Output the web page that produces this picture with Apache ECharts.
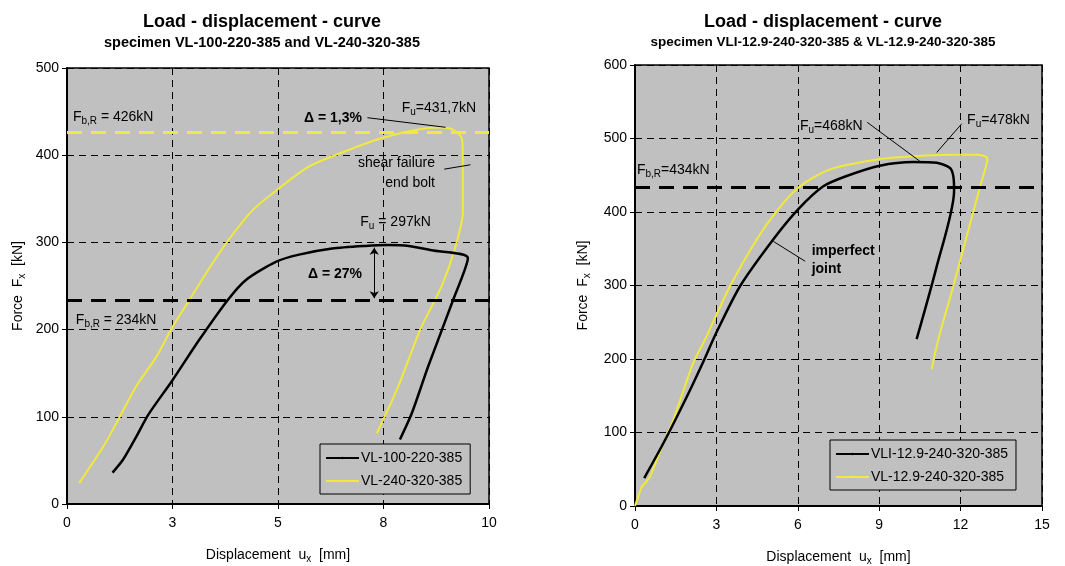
<!DOCTYPE html>
<html>
<head>
<meta charset="utf-8">
<script src="https://cdn.jsdelivr.net/npm/echarts@6/dist/echarts.min.js"></script>
<style>
  html, body { margin: 0; padding: 0; background: #fff; }
  #chart { width: 1065px; height: 566px; }
</style>
</head>
<body>
<div id="chart"></div>
<script>
// ---- Left panel: VL-100-220-385 and VL-240-320-385 ----
const leftBlackDisp  = [1.08, 1.33, 1.64, 1.92, 2.5, 3.13, 3.81, 4.24, 4.96, 5.5, 6.28, 7.07, 7.6, 8.1, 8.64, 9.5, 9.15, 8.56, 8.17, 7.89];
const leftBlackForce = [36, 51, 77, 102, 142, 188, 234, 257, 278, 286, 293, 296, 297, 296, 291, 282, 234, 158, 104, 74];

const leftYellowDisp  = [0.29, 0.9, 1.25, 1.64, 2.12, 2.5, 2.9, 3.3, 3.77, 4.4, 4.97, 5.73, 6.67, 7.48, 8.25, 8.8, 9.11, 9.31, 9.37, 9.38, 9.38, 9.18, 8.87, 8.37, 7.85, 7.34];
const leftYellowForce = [24, 69, 100, 135, 169, 203, 234, 265, 299, 337, 360, 387, 406, 420, 429, 431.7, 430, 423, 415, 387, 335, 291, 249, 200, 135, 81];

// ---- Right panel: VLI-12.9-240-320-385 and VL-12.9-240-320-385 ----
const rightBlackDisp  = [0.34, 1.04, 1.9, 2.5, 3.0, 3.87, 5.1, 6.02, 6.94, 7.8, 9.02, 10.26, 11.12, 11.61, 11.73, 11.76, 11.12, 10.38];
const rightBlackForce = [38, 85, 148, 195, 236, 299, 363, 404, 435, 449, 463, 468, 467, 460, 449, 429, 326, 227];

const rightYellowDisp  = [0, 0.12, 0.25, 0.37, 0.55, 1.04, 1.41, 2.15, 2.6, 3.5, 4.49, 5.28, 6.08, 7.19, 9.02, 10.26, 12.0, 12.6, 12.99, 12.72, 11.73, 11.18, 10.93];
const rightYellowForce = [0, 13, 26, 31, 40, 85, 117, 195, 228, 299, 363, 404, 435, 458, 472, 476, 478, 478, 473, 435, 299, 227, 186];

// Design resistances F_b,R [kN]
const leftFbrYellow = 426;
const leftFbrBlack = 234;
const rightFbrBlack = 434;

// Series names
const leftNames = ['VL-100-220-385', 'VL-240-320-385'];
const rightNames = ['VLI-12.9-240-320-385', 'VL-12.9-240-320-385'];

const zip = (xs, ys) => xs.map((x, i) => [x, ys[i]]);

const FONT = '"Liberation Sans", Arial, sans-serif';
const YELLOW = '#f2ea3a';
const BG = '#c0c0c0';

const plain = { color: '#000', textBorderWidth: 0, textShadowBlur: 0 };
const rich = {
  n: Object.assign({ fontFamily: FONT, fontSize: 14, lineHeight: 18 }, plain),
  s: Object.assign({ fontFamily: FONT, fontSize: 10, lineHeight: 10, verticalAlign: 'bottom' }, plain),
  b: Object.assign({ fontFamily: FONT, fontSize: 14, fontWeight: 'bold', lineHeight: 18 }, plain)
};

function gridAxes(idx, max, interval, xMax, xInterval, fmt) {
  const x = {
    type: 'value', gridIndex: idx, min: 0, max: xMax, interval: xInterval,
    name: '{n|Displacement  u}{s|x}{n|  [mm]}',
    nameLocation: 'middle', nameGap: 42,
    nameTextStyle: { rich: rich },
    axisLine: { onZero: false, lineStyle: { color: '#000', width: 2 } },
    axisTick: { show: true, length: 5, lineStyle: { color: '#000' } },
    axisLabel: { color: '#000', fontSize: 14, fontFamily: FONT, margin: 12, formatter: fmt },
    splitLine: { show: true, lineStyle: { color: '#000', width: 1, type: [7, 5] } }
  };
  const y = {
    type: 'value', gridIndex: idx, min: 0, max: max, interval: interval,
    name: '{n|Force  F}{s|x}{n|  [kN]}',
    nameLocation: 'middle', nameGap: idx === 0 ? 40 : 43,
    nameTextStyle: { rich: rich },
    axisLine: { onZero: false, lineStyle: { color: '#000', width: 2 } },
    axisTick: { show: true, length: 5, lineStyle: { color: '#000' } },
    axisLabel: { color: '#000', fontSize: 14, fontFamily: FONT, margin: 8 },
    splitLine: { show: true, lineStyle: { color: '#000', width: 1, type: [7, 5] } }
  };
  return [x, y];
}

const [xL, yL] = gridAxes(0, 500, 100, 10, 2.5, v => String(Math.round(v)));
const [xR, yR] = gridAxes(1, 600, 100, 15, 3, v => String(v));

function curve(name, idx, xs, ys, color, width) {
  return {
    name: name, type: 'line', xAxisIndex: idx, yAxisIndex: idx,
    data: zip(xs, ys), symbol: 'none', smooth: 0.25, z: 3,
    lineStyle: { color: color, width: width }, itemStyle: { color: color },
    silent: true, animation: false
  };
}

function refLine(value, color) {
  return { yAxis: value, lineStyle: { color: color, width: 3, type: [15, 9] } };
}

function leader(a, b, arrows) {
  const sym = arrows ? 'arrow' : 'none';
  const style = { color: '#000', width: 1, type: 'solid' };
  return [
    { coord: a, symbol: sym, symbolSize: 7, lineStyle: style },
    { coord: b, symbol: sym, symbolSize: 7, lineStyle: style }
  ];
}

// Text notes placed in axis units
function notes(idx, items) {
  return {
    type: 'scatter', xAxisIndex: idx, yAxisIndex: idx, symbolSize: 0, silent: true,
    animation: false, z: 5,
    itemStyle: { opacity: 1, color: 'rgba(0,0,0,0)' },
    data: items.map(it => ({
      value: it.at,
      label: Object.assign({
        show: true, position: 'inside', formatter: it.text, align: it.align || 'left',
        verticalAlign: 'middle', rich: rich, lineHeight: 20, opacity: 1
      }, plain)
    }))
  };
}

const leftNotes = notes(0, [
  { at: [0.14, 444], text: '{n|F}{s|b,R}{n| = 426kN}' },
  { at: [0.21, 211], text: '{n|F}{s|b,R}{n| = 234kN}' },
  { at: [6.99, 443], text: '{b|Δ = 1,3%}', align: 'right' },
  { at: [7.93, 454], text: '{n|F}{s|u}{n|=431,7kN}' },
  { at: [8.72, 391], text: '{n|shear failure}', align: 'right' },
  { at: [8.72, 368], text: '{n|end bolt}', align: 'right' },
  { at: [6.95, 323], text: '{n|F}{s|u}{n| = 297kN}' },
  { at: [6.35, 264], text: '{b|Δ = 27%}', align: 'center' }
]);

const rightNotes = notes(1, [
  { at: [12.24, 525], text: '{n|F}{s|u}{n|=478kN}' },
  { at: [6.08, 517], text: '{n|F}{s|u}{n|=468kN}' },
  { at: [0.07, 457], text: '{n|F}{s|b,R}{n|=434kN}' },
  { at: [6.51, 347], text: '{b|imperfect}' },
  { at: [6.51, 322], text: '{b|joint}' }
]);

const leftYellowSeries = curve(leftNames[1], 0, leftYellowDisp, leftYellowForce, YELLOW, 2);
leftYellowSeries.markLine = {
  silent: true, symbol: 'none', label: { show: false }, animation: false,
  data: [refLine(leftFbrYellow, YELLOW)]
};
const leftBlackSeries = curve(leftNames[0], 0, leftBlackDisp, leftBlackForce, '#000', 2.5);
leftBlackSeries.markLine = {
  silent: true, symbol: 'none', label: { show: false }, animation: false,
  data: [
    refLine(leftFbrBlack, '#000'),
    leader([7.12, 443], [8.97, 432]),
    leader([8.94, 384], [9.56, 389]),
    leader([7.28, 294], [7.28, 236], true)
  ]
};

const rightBlackSeries = curve(rightNames[0], 1, rightBlackDisp, rightBlackForce, '#000', 2.5);
rightBlackSeries.markLine = {
  silent: true, symbol: 'none', label: { show: false }, animation: false,
  data: [
    refLine(rightFbrBlack, '#000'),
    leader([12.04, 520], [11.12, 481]),
    leader([8.56, 522], [10.5, 469]),
    leader([5.1, 360], [6.27, 333])
  ]
};
const rightYellowSeries = curve(rightNames[1], 1, rightYellowDisp, rightYellowForce, YELLOW, 2);

const legendBase = {
  orient: 'vertical', backgroundColor: BG, borderColor: '#000', borderWidth: 1,
  itemWidth: 33, itemHeight: 3, itemGap: 9, padding: [7, 8, 6, 5],
  textStyle: { fontFamily: FONT, fontSize: 14, color: '#000', padding: [0, 0, 0, -3] },
  selectedMode: false, z: 10
};

const chart = echarts.init(document.getElementById('chart'), null, { renderer: 'canvas' });
chart.setOption({
  animation: false,
  backgroundColor: '#fff',
  title: [
    {
      text: 'Load - displacement - curve', subtext: 'specimen VL-100-220-385 and VL-240-320-385',
      left: 257, top: 8, textAlign: 'center', itemGap: 4,
      textStyle: { fontFamily: FONT, fontSize: 18, fontWeight: 'bold', color: '#000' },
      subtextStyle: { fontFamily: FONT, fontSize: 14.5, fontWeight: 'bold', color: '#000' }
    },
    {
      text: 'Load - displacement - curve', subtext: 'specimen VLI-12.9-240-320-385 & VL-12.9-240-320-385',
      left: 818, top: 8, textAlign: 'center', itemGap: 4,
      textStyle: { fontFamily: FONT, fontSize: 18, fontWeight: 'bold', color: '#000' },
      subtextStyle: { fontFamily: FONT, fontSize: 13.5, fontWeight: 'bold', color: '#000' }
    }
  ],
  grid: [
    { left: 67, right: 576, top: 68, bottom: 62, show: true, backgroundColor: BG, borderColor: '#000', borderWidth: 1.5, containLabel: false, outerBoundsMode: 'none' },
    { left: 635, right: 23, top: 65, bottom: 60, show: true, backgroundColor: BG, borderColor: '#000', borderWidth: 1.5, containLabel: false, outerBoundsMode: 'none' }
  ],
  xAxis: [xL, xR],
  yAxis: [yL, yR],
  legend: [
    Object.assign({}, legendBase, { left: 320, top: 444, data: leftNames }),
    Object.assign({}, legendBase, { left: 830, top: 440, data: rightNames })
  ],
  series: [leftYellowSeries, leftBlackSeries, leftNotes, rightYellowSeries, rightBlackSeries, rightNotes]
});
</script>
</body>
</html>
